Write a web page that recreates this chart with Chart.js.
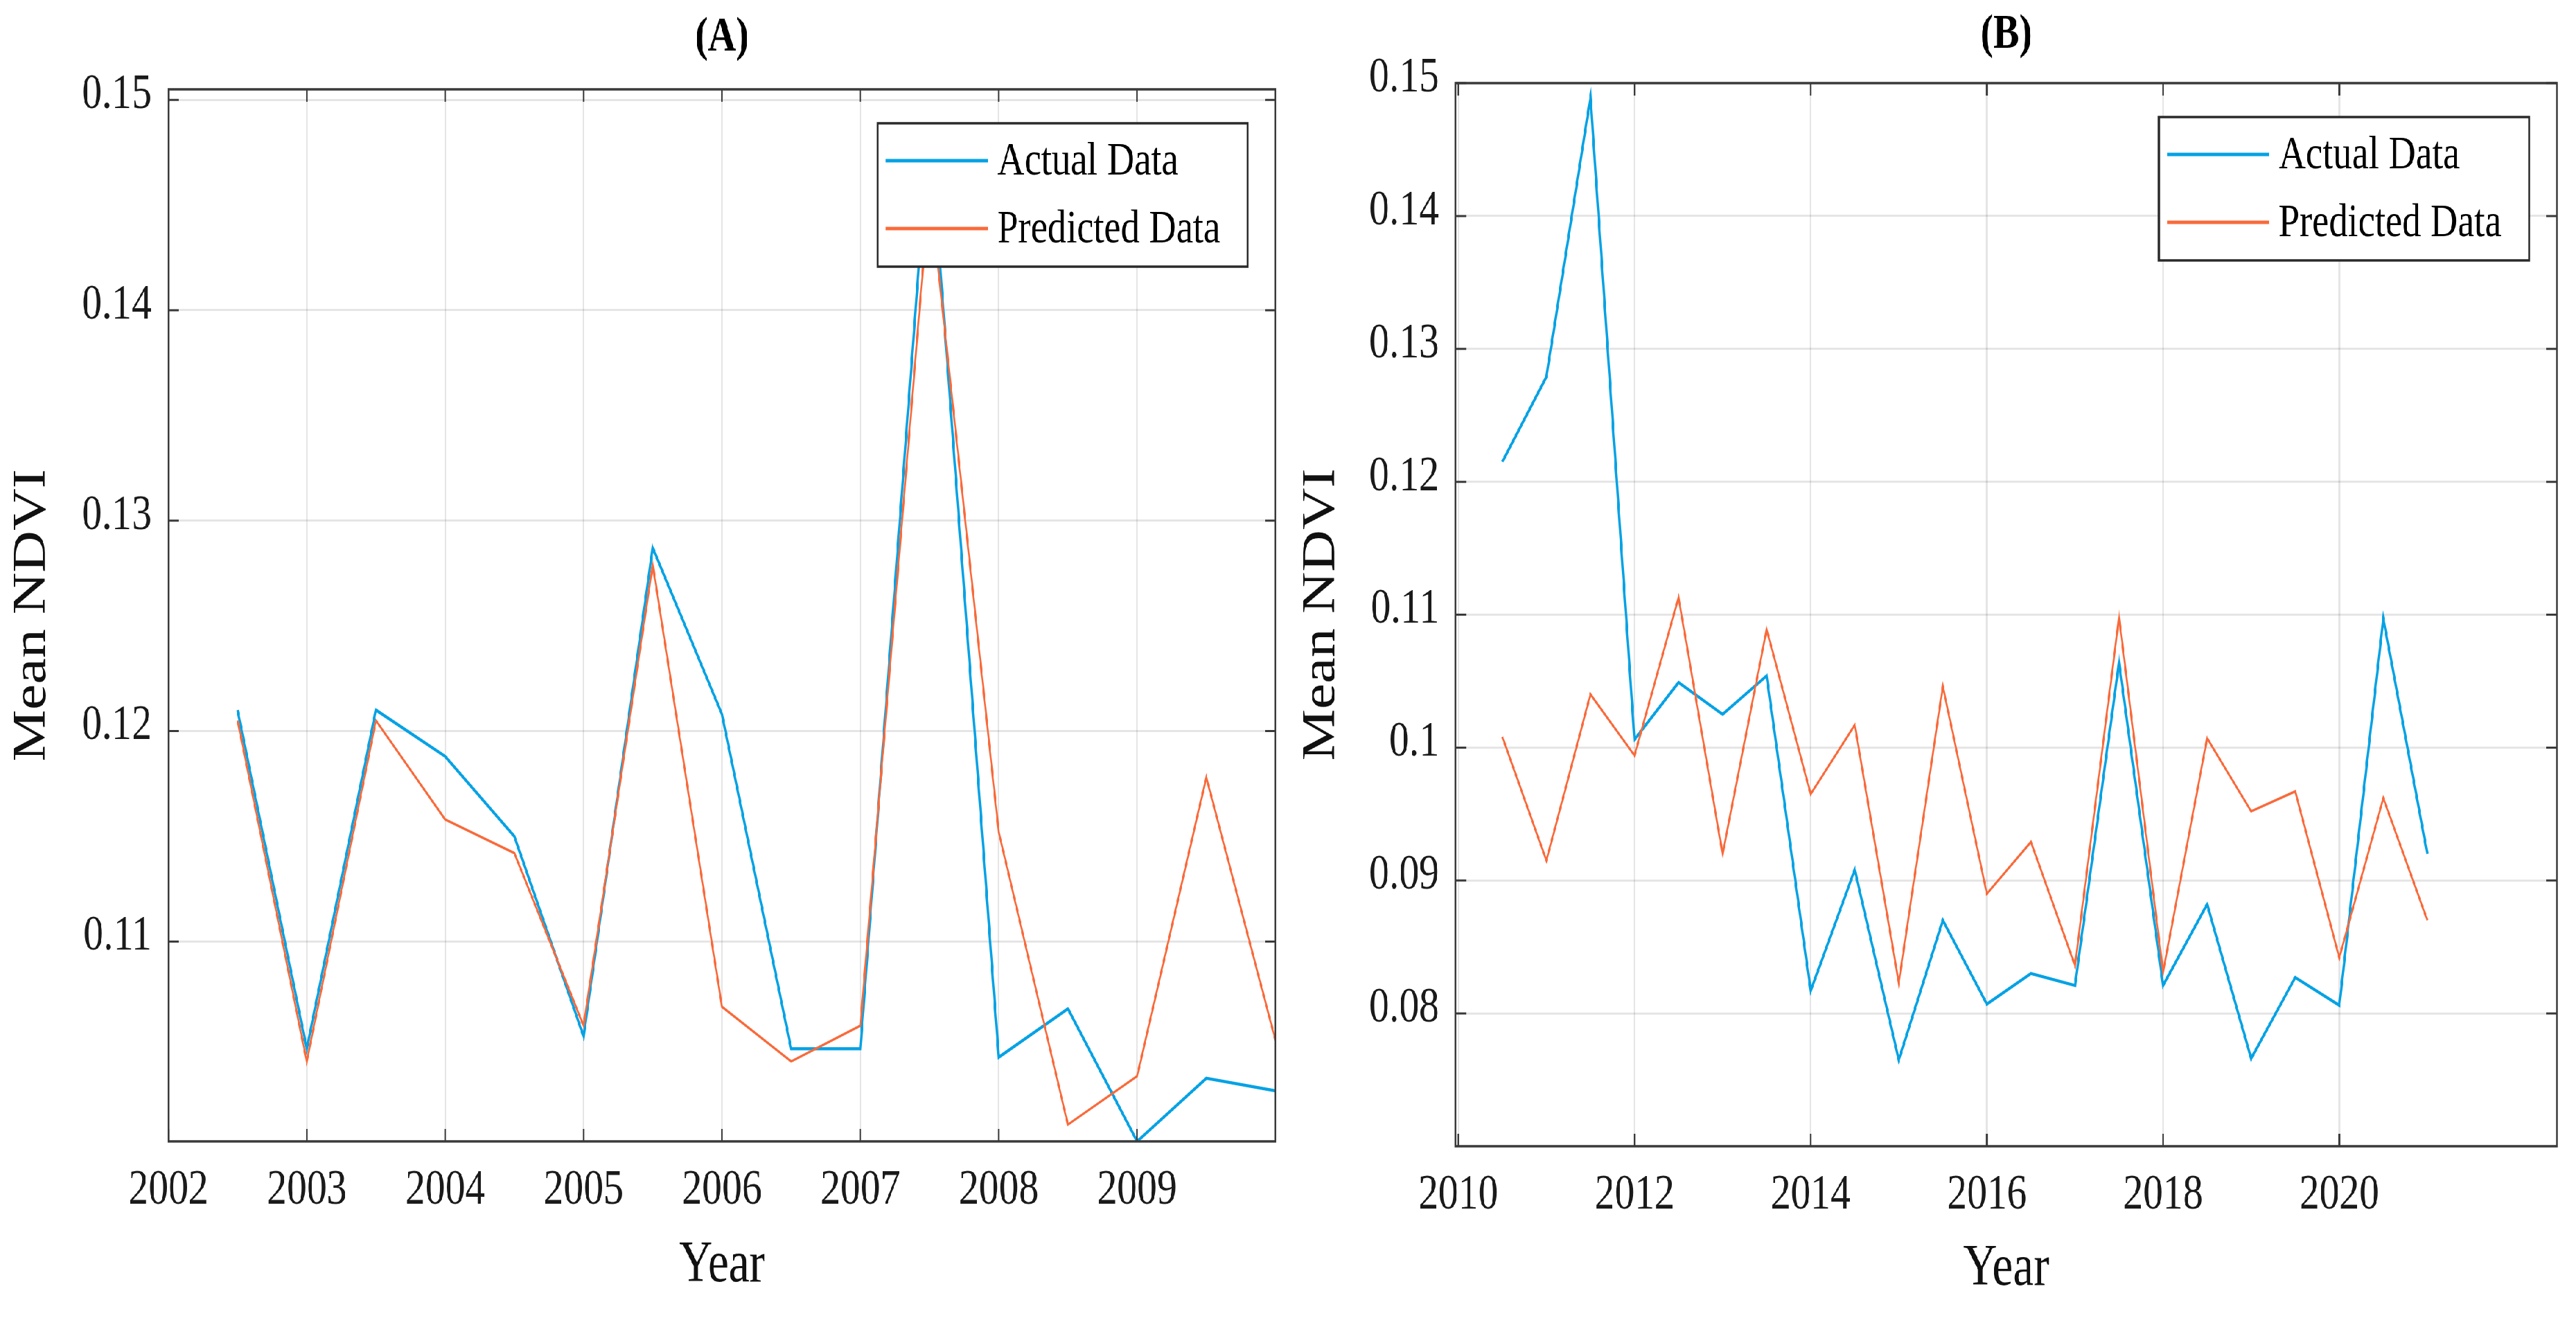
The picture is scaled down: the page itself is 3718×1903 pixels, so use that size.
<!DOCTYPE html>
<html>
<head>
<meta charset="utf-8">
<script src="https://cdn.jsdelivr.net/npm/chart.js@4.4.0/dist/chart.umd.min.js"></script>
<style>
html,body{margin:0;padding:0;background:#fff;overflow:hidden;width:3718px;height:1903px}
#wrap{position:absolute;left:0;top:0;width:4648px;height:1903px;transform:scaleX(0.8);transform-origin:0 0;background:#fff}
canvas{position:absolute;top:0}
</style>
</head>
<body>
<div id="wrap">
<canvas id="cA" width="2325" height="1903" style="left:0;width:2325px;height:1903px"></canvas>
<canvas id="cB" width="2323" height="1903" style="left:2325px;width:2323px;height:1903px"></canvas>
</div>
<script>
// ---------- DATA ----------
const seriesNames = ['Actual Data', 'Predicted Data'];

const yearsA = [2002.5, 2003, 2003.5, 2004, 2004.5, 2005, 2005.5, 2006, 2006.5, 2007, 2007.5, 2008, 2008.5, 2009, 2009.5, 2010];
const actualA = [0.1210, 0.1049, 0.1210, 0.1188, 0.1150, 0.1055, 0.1287, 0.1208, 0.1049, 0.1049, 0.1489, 0.1045, 0.1068, 0.1005, 0.1035, 0.1029];
const predictedA = [0.1205, 0.1043, 0.1205, 0.1158, 0.1142, 0.1060, 0.1279, 0.1069, 0.1043, 0.1060, 0.1458, 0.1152, 0.1013, 0.1036, 0.1178, 0.1053];
const xTicksA = [2002, 2003, 2004, 2005, 2006, 2007, 2008, 2009];
const yTicksA = [0.11, 0.12, 0.13, 0.14, 0.15];

const yearsB = [2010.5, 2011, 2011.5, 2012, 2012.5, 2013, 2013.5, 2014, 2014.5, 2015, 2015.5, 2016, 2016.5, 2017, 2017.5, 2018, 2018.5, 2019, 2019.5, 2020, 2020.5, 2021];
const actualB = [0.1215, 0.1279, 0.1489, 0.1006, 0.1049, 0.1025, 0.1054, 0.0817, 0.0908, 0.0765, 0.0870, 0.0807, 0.0830, 0.0821, 0.1064, 0.0821, 0.0882, 0.0766, 0.0827, 0.0806, 0.1097, 0.0920];
const predictedB = [0.1008, 0.0915, 0.1040, 0.0994, 0.1113, 0.0920, 0.1089, 0.0965, 0.1017, 0.0823, 0.1046, 0.0890, 0.0929, 0.0836, 0.1098, 0.0831, 0.1007, 0.0952, 0.0967, 0.0842, 0.0962, 0.0870];
const xTicksB = [2010, 2012, 2014, 2016, 2018, 2020];
const yTicksB = [0.08, 0.09, 0.1, 0.11, 0.12, 0.13, 0.14, 0.15];

// ---------- STYLE ----------
const FONT = '"Liberation Serif", "DejaVu Serif", serif';
const BLUE = '#05a2e4';
const ORANGE = '#f96a3b';
const FRAME = '#3a3a3a';

const frameLegendPlugin = {
  id: 'frameLegend',
  afterDatasetsDraw(chart) {
    const ctx = chart.ctx;
    const a = chart.chartArea;
    const xs = chart.scales.x, ys = chart.scales.y;
    ctx.save();
    // inner ticks
    ctx.strokeStyle = FRAME;
    ctx.lineWidth = 3;
    ctx.beginPath();
    ys.ticks.forEach(t => {
      const y = ys.getPixelForValue(t.value);
      ctx.moveTo(a.left, y); ctx.lineTo(a.left + 19, y);
      ctx.moveTo(a.right, y); ctx.lineTo(a.right - 19, y);
    });
    xs.ticks.forEach(t => {
      const x = xs.getPixelForValue(t.value);
      ctx.moveTo(x, a.bottom); ctx.lineTo(x, a.bottom - 18);
      ctx.moveTo(x, a.top); ctx.lineTo(x, a.top + 18);
    });
    ctx.stroke();
    // frame
    ctx.lineWidth = 3.5;
    ctx.strokeRect(a.left, a.top, a.right - a.left, a.bottom - a.top);
    // legend box
    const bw = 668, bh = 207;
    const bx = a.right - 50 - bw, by = a.top + 49;
    ctx.fillStyle = '#fff';
    ctx.fillRect(bx, by, bw, bh);
    ctx.lineWidth = 3.5;
    ctx.strokeStyle = '#2a2a2a';
    ctx.strokeRect(bx, by, bw, bh);
    const rows = [by + 54, by + 152];
    ctx.font = '68px ' + FONT;
    ctx.textBaseline = 'middle';
    ctx.textAlign = 'left';
    chart.data.datasets.forEach((ds, i) => {
      ctx.strokeStyle = ds.borderColor;
      ctx.lineWidth = 5;
      ctx.beginPath();
      ctx.moveTo(bx + 15, rows[i]);
      ctx.lineTo(bx + 199, rows[i]);
      ctx.stroke();
      ctx.fillStyle = '#000';
      ctx.fillText(ds.label, bx + 216, rows[i] + 2);
    });
    ctx.restore();
  }
};

function pts(xs, ys) { return xs.map((x, i) => ({ x: x, y: ys[i] })); }

function makeChart(id, p) {
  return new Chart(document.getElementById(id), {
    type: 'line',
    data: {
      datasets: [
        { label: seriesNames[0], data: pts(p.years, p.actual), borderColor: BLUE, borderWidth: 4.5, pointRadius: 0, tension: 0, borderJoinStyle: 'miter', order: 1 },
        { label: seriesNames[1], data: pts(p.years, p.predicted), borderColor: ORANGE, borderWidth: 3.6, pointRadius: 0, tension: 0, borderJoinStyle: 'miter', order: 0 }
      ]
    },
    options: {
      responsive: false,
      animation: false,
      devicePixelRatio: 1,
      events: [],
      layout: { padding: { left: 0, right: p.padRight, top: 0, bottom: 0 } },
      plugins: {
        legend: { display: false },
        tooltip: { enabled: false },
        title: {
          display: true, text: p.title, fullSize: false, color: '#000',
          font: { family: FONT, size: 70, weight: 'bold', lineHeight: 1.2 },
          padding: { top: p.titlePadTop, bottom: p.titlePadBottom }
        }
      },
      scales: {
        x: {
          type: 'linear', min: p.xmin, max: p.xmax,
          afterBuildTicks: s => { s.ticks = p.xTicks.map(v => ({ value: v })); },
          afterFit: s => { s.height = p.xAxisH; },
          ticks: { color: '#1a1a1a', padding: 28, font: { family: FONT, size: 72 }, callback: v => String(v), maxRotation: 0, autoSkip: false },
          grid: { color: 'rgba(0,0,0,0.10)', lineWidth: 3, drawTicks: false },
          border: { display: false },
          title: { display: true, text: 'Year', color: '#111', font: { family: FONT, size: 84, lineHeight: 1.2 }, padding: { top: 0, bottom: p.xTitlePad } }
        },
        y: {
          type: 'linear', min: p.ymin, max: p.ymax,
          afterBuildTicks: s => { s.ticks = p.yTicks.map(v => ({ value: v })); },
          afterFit: s => { s.width = p.yAxisW; },
          ticks: { color: '#1a1a1a', padding: 30, labelOffset: -7, font: { family: FONT, size: 72 }, callback: v => String(+v.toFixed(2)), autoSkip: false },
          grid: { color: 'rgba(0,0,0,0.10)', lineWidth: 3, drawTicks: false },
          border: { display: false },
          title: { display: true, text: 'Mean NDVI', color: '#111', font: { family: FONT, size: 84, lineHeight: 1.2 }, padding: { top: p.yTitlePad, bottom: 0 } }
        }
      }
    },
    plugins: [frameLegendPlugin]
  });
}

makeChart('cA', {
  title: '(A)', years: yearsA, actual: actualA, predicted: predictedA,
  xTicks: xTicksA, yTicks: yTicksA,
  xmin: 2002, xmax: 2010, ymin: 0.1005, ymax: 0.1505,
  padRight: 23.75, xAxisH: 255, yAxisW: 303.75,
  titlePadTop: 13, titlePadBottom: 32, xTitlePad: 24.6, yTitlePad: 8.6
});
makeChart('cB', {
  title: '(B)', years: yearsB, actual: actualB, predicted: predictedB,
  xTicks: xTicksB, yTicks: yTicksB,
  xmin: 2009.97, xmax: 2022.47, ymin: 0.07, ymax: 0.15,
  padRight: 35, xAxisH: 248, yAxisW: 301.25,
  titlePadTop: 9, titlePadBottom: 27, xTitlePad: 19.6, yTitlePad: 9.5
});
</script>
</body>
</html>
